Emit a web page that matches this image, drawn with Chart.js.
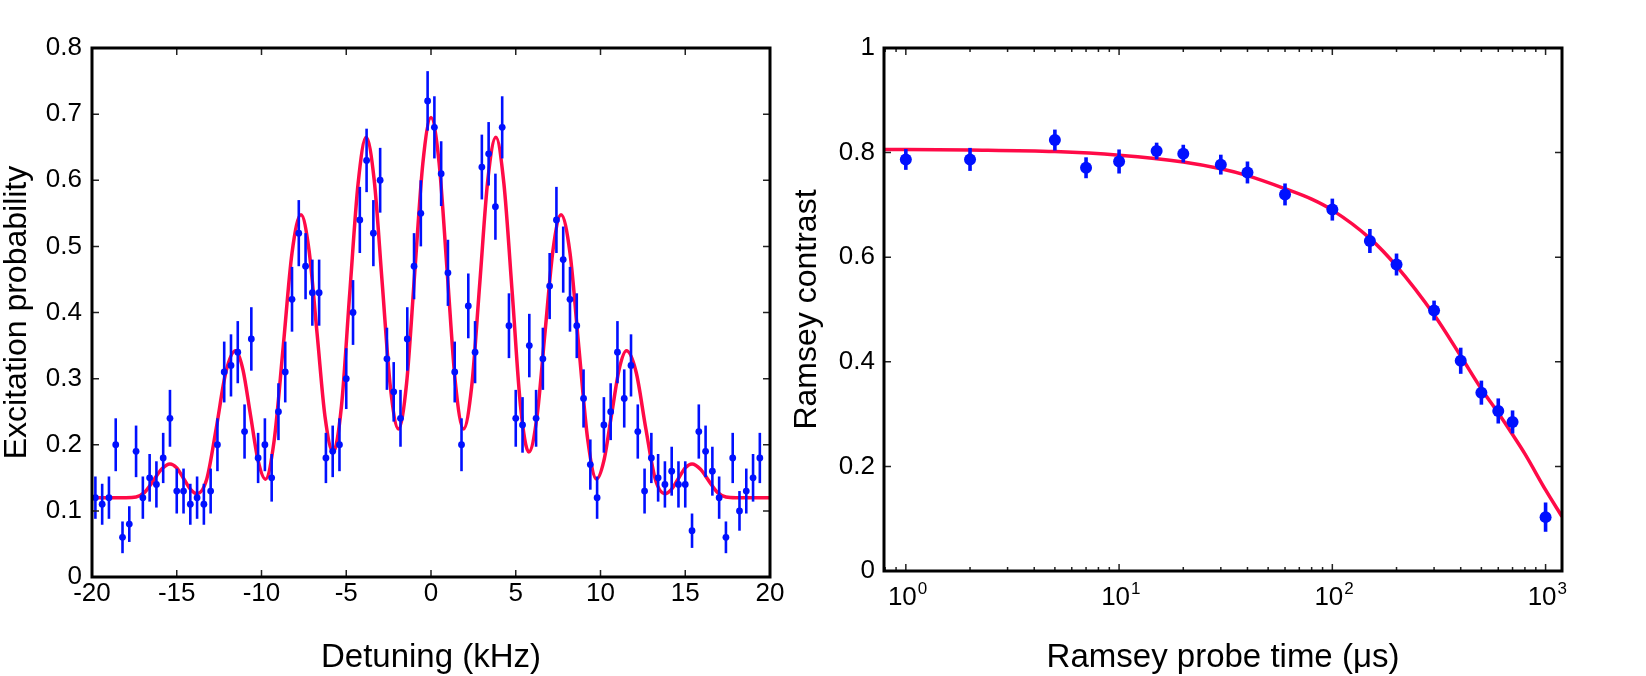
<!DOCTYPE html>
<html>
<head>
<meta charset="utf-8">
<script src="https://cdn.jsdelivr.net/npm/chart.js"></script>
<style>
    html, body { margin: 0; padding: 0; background: #fff; }
    #wrap { position: relative; width: 1646px; height: 676px; overflow: hidden; }
    canvas { position: absolute; top: 0; }
    #left { left: 0; }
    #right { left: 780px; }
</style>
</head>
<body>
<div id="wrap">
    <canvas id="left" width="800" height="676"></canvas>
    <canvas id="right" width="866" height="676"></canvas>
</div>
<script>
// Left panel: Ramsey fringes vs detuning
const detuning = [-19.8,-19.4,-19.0,-18.6,-18.2,-17.8,-17.4,-17.0,-16.6,-16.2,
    -15.8,-15.4,-15.0,-14.6,-14.2,-13.8,-13.4,-13.0,-12.6,-12.2,
    -11.8,-11.4,-11.0,-10.6,-10.2,-9.8,-9.4,-9.0,-8.6,-8.2,
    -7.8,-7.4,-7.0,-6.6,-6.2,-5.8,-5.4,-5.0,-4.6,-4.2,
    -3.8,-3.4,-3.0,-2.6,-2.2,-1.8,-1.4,-1.0,-0.6,-0.2,
    0.2,0.6,1.0,1.4,1.8,2.2,2.6,3.0,3.4,3.8,
    4.2,4.6,5.0,5.4,5.8,6.2,6.6,7.0,7.4,7.8,
    8.2,8.6,9.0,9.4,9.8,10.2,10.6,11.0,11.4,11.8,
    12.2,12.6,13.0,13.4,13.8,14.2,14.6,15.0,15.4,15.8,
    16.2,16.6,17.0,17.4,17.8,18.2,18.6,19.0,19.4];
const excitation = [0.12,0.11,0.12,0.20,0.06,0.08,0.19,0.12,0.15,0.14,
    0.18,0.24,0.13,0.13,0.11,0.12,0.11,0.13,0.20,0.31,
    0.32,0.34,0.22,0.36,0.18,0.20,0.15,0.25,0.31,0.42,
    0.52,0.47,0.43,0.43,0.18,0.19,0.20,0.30,0.40,0.54,
    0.63,0.52,0.60,0.33,0.28,0.24,0.36,0.47,0.55,0.72,
    0.68,0.61,0.46,0.31,0.20,0.41,0.34,0.62,0.64,0.56,
    0.68,0.38,0.24,0.23,0.35,0.24,0.33,0.44,0.54,0.48,
    0.42,0.38,0.27,0.17,0.12,0.23,0.25,0.34,0.27,0.32,
    0.22,0.13,0.18,0.15,0.14,0.16,0.14,0.14,0.07,0.22,
    0.19,0.16,0.12,0.06,0.18,0.10,0.13,0.15,0.18];
const excitationErr = [0.032,0.031,0.032,0.040,0.024,0.027,0.039,0.032,0.036,0.035,
    0.038,0.043,0.034,0.034,0.031,0.032,0.031,0.034,0.040,0.046,
    0.047,0.047,0.041,0.048,0.038,0.040,0.036,0.043,0.046,0.049,
    0.050,0.050,0.050,0.050,0.038,0.039,0.040,0.046,0.049,0.050,
    0.048,0.050,0.049,0.047,0.045,0.043,0.048,0.050,0.050,0.045,
    0.047,0.049,0.050,0.046,0.040,0.049,0.047,0.049,0.048,0.050,
    0.047,0.049,0.043,0.042,0.048,0.043,0.047,0.050,0.050,0.050,
    0.049,0.049,0.044,0.038,0.032,0.042,0.043,0.047,0.044,0.047,
    0.041,0.034,0.038,0.036,0.035,0.037,0.035,0.035,0.026,0.041,
    0.039,0.037,0.032,0.024,0.038,0.030,0.034,0.036,0.038];

// fit curve at its turning points and flanks
const fitDetuning = [-20,-18,-17.4,-16.9,-16.4,-15.9,-15.4,-15.0,-14.6,-14.2,
    -13.8,-13.23,-12.67,-12.1,-11.53,-11.1,-10.65,-10.2,-9.77,-9.25,
    -8.72,-8.2,-7.67,-7.2,-6.72,-6.25,-5.77,-5.28,-4.8,-4.3,
    -3.83,-3.35,-2.88,-2.4,-1.92,-1.44,-0.96,-0.48,0,
    0.48,0.96,1.44,1.92,2.4,2.88,3.35,3.83,4.3,4.8,
    5.28,5.77,6.25,6.72,7.2,7.67,8.2,8.72,9.25,9.77,
    10.2,10.65,11.1,11.53,12.1,12.67,13.23,13.8,14.2,14.6,
    15.0,15.4,15.9,16.4,16.9,17.4,18,20];
const fitExcitation = [0.12,0.12,0.121,0.128,0.145,0.163,0.171,0.165,0.149,0.133,
    0.126,0.148,0.225,0.31,0.342,0.314,0.245,0.176,0.148,0.207,
    0.348,0.49,0.548,0.495,0.368,0.242,0.189,0.259,0.427,0.595,
    0.665,0.60,0.445,0.288,0.224,0.293,0.46,0.626,0.695,
    0.626,0.46,0.293,0.224,0.288,0.445,0.60,0.665,0.595,0.427,
    0.259,0.189,0.242,0.368,0.495,0.548,0.49,0.348,0.207,0.148,
    0.176,0.245,0.314,0.342,0.31,0.225,0.148,0.126,0.133,0.149,
    0.165,0.171,0.163,0.145,0.128,0.121,0.12,0.12];

const detuningTicks = [-20, -15, -10, -5, 0, 5, 10, 15, 20];
const excitationTicks = [0, 0.1, 0.2, 0.3, 0.4, 0.5, 0.6, 0.7, 0.8];

// Right panel: contrast vs probe time
const probeTime = [1, 2, 5, 7, 10, 15, 20, 30, 40, 60, 100, 150, 200, 300, 400, 500, 600, 700, 1000];
const contrast = [0.787, 0.787, 0.824, 0.771, 0.783, 0.803, 0.798, 0.777, 0.762, 0.720,
    0.691, 0.631, 0.586, 0.498, 0.402, 0.341, 0.306, 0.285, 0.103];
const contrastErr = [0.020, 0.022, 0.020, 0.020, 0.023, 0.016, 0.017, 0.019, 0.021, 0.021,
    0.021, 0.023, 0.021, 0.019, 0.025, 0.023, 0.024, 0.022, 0.028];
const fitTime = [0.79, 1, 2, 5, 10, 20, 30, 40, 60, 80, 100, 150, 200, 300, 400, 500, 600, 700, 800, 1000, 1194];
const fitContrast = [0.806, 0.806, 0.805, 0.802, 0.795, 0.782, 0.769, 0.756, 0.731, 0.711, 0.690,
    0.636, 0.583, 0.490, 0.411, 0.348, 0.302, 0.261, 0.224, 0.155, 0.104];

const timeDecades = [1, 10, 100, 1000];
const timeExponents = ["0", "1", "2", "3"];
const contrastTicks = [0, 0.2, 0.4, 0.6, 0.8, 1];

const RED = "#ff0a47";
const BLUE = "#0010ff";
const FONT = "'Liberation Sans', Arial, Helvetica, sans-serif";

Chart.defaults.font.family = FONT;
Chart.defaults.color = "#000";

function isDecade(v) {
    const l = Math.log10(v);
    return Math.abs(l - Math.round(l)) < 1e-9;
}

// error bars under the markers, inward ticks and the box frame
const framePlugin = {
    id: "frame",
    beforeDatasetDraw(chart, args) {
        const ds = chart.data.datasets[args.index];
        if (!ds.errors) return;
        const { x, y } = chart.scales;
        const ctx = chart.ctx;
        ctx.save();
        ctx.strokeStyle = ds.backgroundColor;
        ctx.lineWidth = ds.errorWidth;
        ds.data.forEach((p, i) => {
            const px = x.getPixelForValue(p.x);
            ctx.beginPath();
            ctx.moveTo(px, y.getPixelForValue(p.y - ds.errors[i]));
            ctx.lineTo(px, y.getPixelForValue(p.y + ds.errors[i]));
            ctx.stroke();
        });
        ctx.restore();
    },
    afterDraw(chart) {
        const { ctx, chartArea: a } = chart;
        const { x, y } = chart.scales;
        ctx.save();
        ctx.strokeStyle = "#222";
        ctx.lineWidth = 1.5;
        x.ticks.forEach(t => {
            const px = x.getPixelForValue(t.value);
            const len = (x.type === "logarithmic" && !isDecade(t.value)) ? 4 : 7;
            ctx.beginPath();
            ctx.moveTo(px, a.bottom); ctx.lineTo(px, a.bottom - len);
            ctx.moveTo(px, a.top); ctx.lineTo(px, a.top + len);
            ctx.stroke();
        });
        y.ticks.forEach(t => {
            const py = y.getPixelForValue(t.value);
            ctx.beginPath();
            ctx.moveTo(a.left, py); ctx.lineTo(a.left + 7, py);
            ctx.moveTo(a.right, py); ctx.lineTo(a.right - 7, py);
            ctx.stroke();
        });
        ctx.strokeStyle = "#000";
        ctx.lineWidth = 3;
        ctx.strokeRect(a.left, a.top, a.right - a.left, a.bottom - a.top);

        // power-of-ten labels with raised exponent
        if (x.type === "logarithmic") {
            ctx.fillStyle = "#000";
            ctx.textBaseline = "alphabetic";
            timeDecades.forEach((v, i) => {
                const px = x.getPixelForValue(v);
                ctx.font = "26px " + FONT;
                ctx.textAlign = "right";
                ctx.fillText("10", px + 11, a.bottom + 34);
                ctx.font = "17px " + FONT;
                ctx.textAlign = "left";
                ctx.fillText(timeExponents[i], px + 12, a.bottom + 23);
            });
        }
        ctx.restore();
    }
};

function baseAxis(extra) {
    return Object.assign({
        grid: { display: false, drawTicks: false },
        border: { display: false },
    }, extra);
}

new Chart(document.getElementById("left"), {
    type: "scatter",
    data: {
        datasets: [
            {
                type: "line",
                data: fitDetuning.map((d, i) => ({ x: d, y: fitExcitation[i] })),
                borderColor: RED,
                borderWidth: 3.5,
                pointRadius: 0,
                cubicInterpolationMode: "monotone",
                fill: false,
                order: 2
            },
            {
                data: detuning.map((d, i) => ({ x: d, y: excitation[i] })),
                errors: excitationErr,
                errorWidth: 2.6,
                backgroundColor: BLUE,
                borderWidth: 0,
                pointRadius: 3.4,
                order: 1
            }
        ]
    },
    options: {
        responsive: false,
        animation: false,
        devicePixelRatio: 1,
        layout: { padding: { left: 0, top: 48, right: 30, bottom: 0 } },
        plugins: { legend: { display: false }, tooltip: { enabled: false } },
        scales: {
            x: baseAxis({
                type: "linear", min: -20, max: 20,
                afterBuildTicks: s => { s.ticks = detuningTicks.map(v => ({ value: v })); },
                ticks: { font: { size: 26 }, padding: 1, autoSkip: false, maxRotation: 0 },
                title: { display: true, text: "Detuning (kHz)", font: { size: 33, lineHeight: 1.1 }, padding: 0 },
                afterFit: s => { s.height = 99; }
            }),
            y: baseAxis({
                min: 0, max: 0.8,
                afterBuildTicks: s => { s.ticks = excitationTicks.map(v => ({ value: v })); },
                ticks: { font: { size: 26 }, padding: 10, callback: v => String(+v.toFixed(1)) },
                title: { display: true, text: "Excitation probability", font: { size: 32, lineHeight: 1.1 }, padding: 0 },
                afterFit: s => { s.width = 92; }
            })
        }
    },
    plugins: [framePlugin]
});

new Chart(document.getElementById("right"), {
    type: "scatter",
    data: {
        datasets: [
            {
                type: "line",
                data: fitTime.map((t, i) => ({ x: t, y: fitContrast[i] })),
                borderColor: RED,
                borderWidth: 3.5,
                pointRadius: 0,
                cubicInterpolationMode: "monotone",
                fill: false,
                order: 2
            },
            {
                data: probeTime.map((t, i) => ({ x: t, y: contrast[i] })),
                errors: contrastErr,
                errorWidth: 3.6,
                backgroundColor: BLUE,
                borderWidth: 0,
                pointRadius: 6,
                order: 1
            }
        ]
    },
    options: {
        responsive: false,
        animation: false,
        devicePixelRatio: 1,
        layout: { padding: { left: 0, top: 48, right: 84, bottom: 0 } },
        plugins: { legend: { display: false }, tooltip: { enabled: false } },
        scales: {
            x: baseAxis({
                type: "logarithmic", min: 0.79, max: 1194,
                afterBuildTicks: s => {
                    const vals = [0.8, 0.9];
                    for (let e = 0; e < 3; e++) {
                        for (let m = 1; m < 10; m++) vals.push(m * Math.pow(10, e));
                    }
                    vals.push(1000);
                    s.ticks = vals.map(v => ({ value: v }));
                },
                ticks: { font: { size: 26 }, padding: 9, autoSkip: false, maxRotation: 0, callback: () => "" },
                title: { display: true, text: "Ramsey probe time (\u03BCs)", font: { size: 33, lineHeight: 1.1 }, padding: 0 },
                afterFit: s => { s.height = 105; }
            }),
            y: baseAxis({
                min: 0, max: 1,
                afterBuildTicks: s => { s.ticks = contrastTicks.map(v => ({ value: v })); },
                ticks: { font: { size: 26 }, padding: 9, callback: v => String(+v.toFixed(1)) },
                title: { display: true, text: "Ramsey contrast", font: { size: 32, lineHeight: 1.1 }, padding: { top: 10, bottom: 0 } },
                afterFit: s => { s.width = 104; }
            })
        }
    },
    plugins: [framePlugin]
});
</script>
</body>
</html>
